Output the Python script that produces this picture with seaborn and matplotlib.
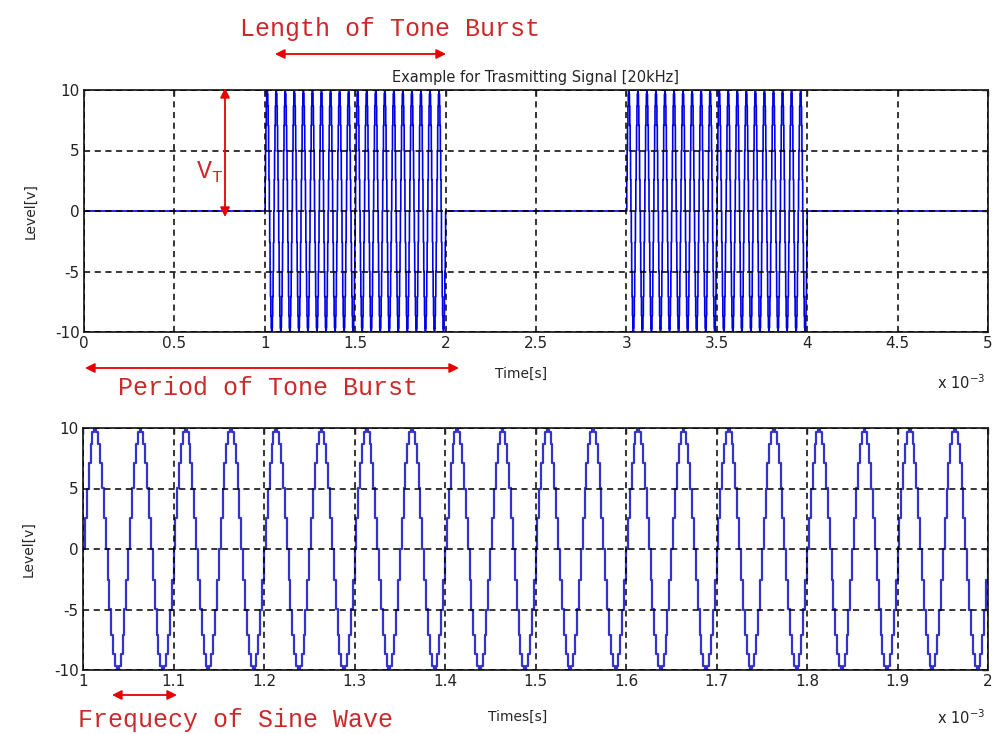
import numpy as np
import pandas as pd
import matplotlib
matplotlib.use("Agg")
import matplotlib.pyplot as plt
import seaborn as sns

# ---- values ----
tone_freq_khz = 20.0          # title: 20kHz
amplitude_v = 10.0            # V_T
sample_rate_khz = 480.0       # staircase steps visible in the zoomed plot
burst_starts_ms = [1.0, 3.0]
burst_ends_ms = [2.0, 4.0]
signal_span_ms = [0.0, 5.0]

top_title = "Example for Trasmitting Signal [20kHz]"
top_xlabel = "Time[s]"
bottom_xlabel = "Times[s]"
ylabel = "Level[v]"
multiplier = r"x 10$^{-3}$"

top_xticks = [0, 0.5, 1, 1.5, 2, 2.5, 3, 3.5, 4, 4.5, 5]
top_xticklabels = ["0", "0.5", "1", "1.5", "2", "2.5", "3", "3.5", "4", "4.5", "5"]
bottom_xticks = [1, 1.1, 1.2, 1.3, 1.4, 1.5, 1.6, 1.7, 1.8, 1.9, 2]
bottom_xticklabels = ["1", "1.1", "1.2", "1.3", "1.4", "1.5", "1.6", "1.7", "1.8", "1.9", "2"]
yticks = [-10, -5, 0, 5, 10]
yticklabels = ["-10", "-5", "0", "5", "10"]

ann_length = "Length of Tone Burst"
ann_period = "Period of Tone Burst"
ann_freq = "Frequecy of Sine Wave"
ann_vt = r"$\mathregular{V_T}$"

# ---- build the tone-burst signal ----
dt = 1.0 / sample_rate_khz
t = np.arange(signal_span_ms[0], signal_span_ms[1] + dt / 2, dt)
v = np.zeros_like(t)
for s, e in zip(burst_starts_ms, burst_ends_ms):
    m = (t >= s) & (t < e)
    v[m] = amplitude_v * np.sin(2 * np.pi * tone_freq_khz * (t[m] - s))
df = pd.DataFrame({"t": t, "v": v})
zoom_df = df[(df.t >= bottom_xticks[0]) & (df.t <= bottom_xticks[-1])]

sns.set_style("white")
plt.rcParams["font.family"] = ["DejaVu Sans"]

W, H = 993, 734
fig = plt.figure(figsize=(W / 100, H / 100), dpi=100)

def fx(px):
    return px / W

def fy(py):
    return 1 - py / H

ax1 = fig.add_axes([fx(84), fy(332), fx(988) - fx(84), fy(90) - fy(332)])
ax2 = fig.add_axes([fx(83), fy(670), fx(988) - fx(83), fy(428) - fy(670)])

sns.lineplot(data=df, x="t", y="v", ax=ax1, color="#0000e6", linewidth=1.2,
             estimator=None, drawstyle="steps-post")
sns.lineplot(data=zoom_df, x="t", y="v", ax=ax2, color="#3434cc", linewidth=1.6,
             estimator=None, drawstyle="steps-post")

for ax, xt, xtl in [(ax1, top_xticks, top_xticklabels), (ax2, bottom_xticks, bottom_xticklabels)]:
    ax.set_xlim(xt[0], xt[-1])
    ax.set_ylim(yticks[0], yticks[-1])
    ax.set_xticks(xt)
    ax.set_xticklabels(xtl)
    ax.set_yticks(yticks)
    ax.set_yticklabels(yticklabels)
    ax.tick_params(direction="in", top=True, right=True, length=4, width=1,
                   labelsize=11, colors="#222222", pad=3)
    ax.grid(True, color="black", linestyle=(0, (4, 3)), linewidth=1.1)
    ax.set_axisbelow(False)
    for sp in ax.spines.values():
        sp.set_visible(True)
        sp.set_color("#222222")
        sp.set_linewidth(1.3)
    ax.set_ylabel(ylabel, fontsize=10)
    ax.yaxis.set_label_coords(-0.052, 0.5)

ax1.set_xlabel(top_xlabel, fontsize=10)
ax1.xaxis.set_label_coords(0.484, -0.145)
ax2.set_xlabel(bottom_xlabel, fontsize=10)
ax2.xaxis.set_label_coords(0.48, -0.165)
ax1.set_title(top_title, fontsize=10.5, pad=6, x=0.5)

fig.text(fx(937), fy(383), multiplier, fontsize=10.5, va="center", ha="left", color="#222222")
fig.text(fx(937), fy(718), multiplier, fontsize=10.5, va="center", ha="left", color="#222222")

# ---- red annotations ----
red_txt = "#cc2a2a"
red_arr = "#e80000"
mono = ["Liberation Mono", "DejaVu Sans Mono"]
arrow_kw = dict(arrowstyle="<|-|>", color=red_arr, lw=1.3, mutation_scale=14,
                shrinkA=0, shrinkB=0)

def darrow(x1, y1, x2, y2):
    fig.add_artist(matplotlib.patches.FancyArrowPatch(
        (fx(x1), fy(y1)), (fx(x2), fy(y2)), transform=fig.transFigure, **arrow_kw))

fig.text(fx(390), fy(29), ann_length, fontsize=18, family=mono, color=red_txt,
         ha="center", va="center")
darrow(275, 54, 446, 54)

fig.text(fx(268), fy(388), ann_period, fontsize=18, family=mono, color=red_txt,
         ha="center", va="center")
darrow(85, 368, 459, 368)

darrow(225, 88, 225, 217)
fig.text(fx(210), fy(172), ann_vt, fontsize=18, family=mono, color=red_txt,
         ha="center", va="center")

fig.text(fx(236), fy(720), ann_freq, fontsize=18, family=mono, color=red_txt,
         ha="center", va="center")
darrow(112, 695, 177, 695)

fig.savefig("out.png", dpi=100)
